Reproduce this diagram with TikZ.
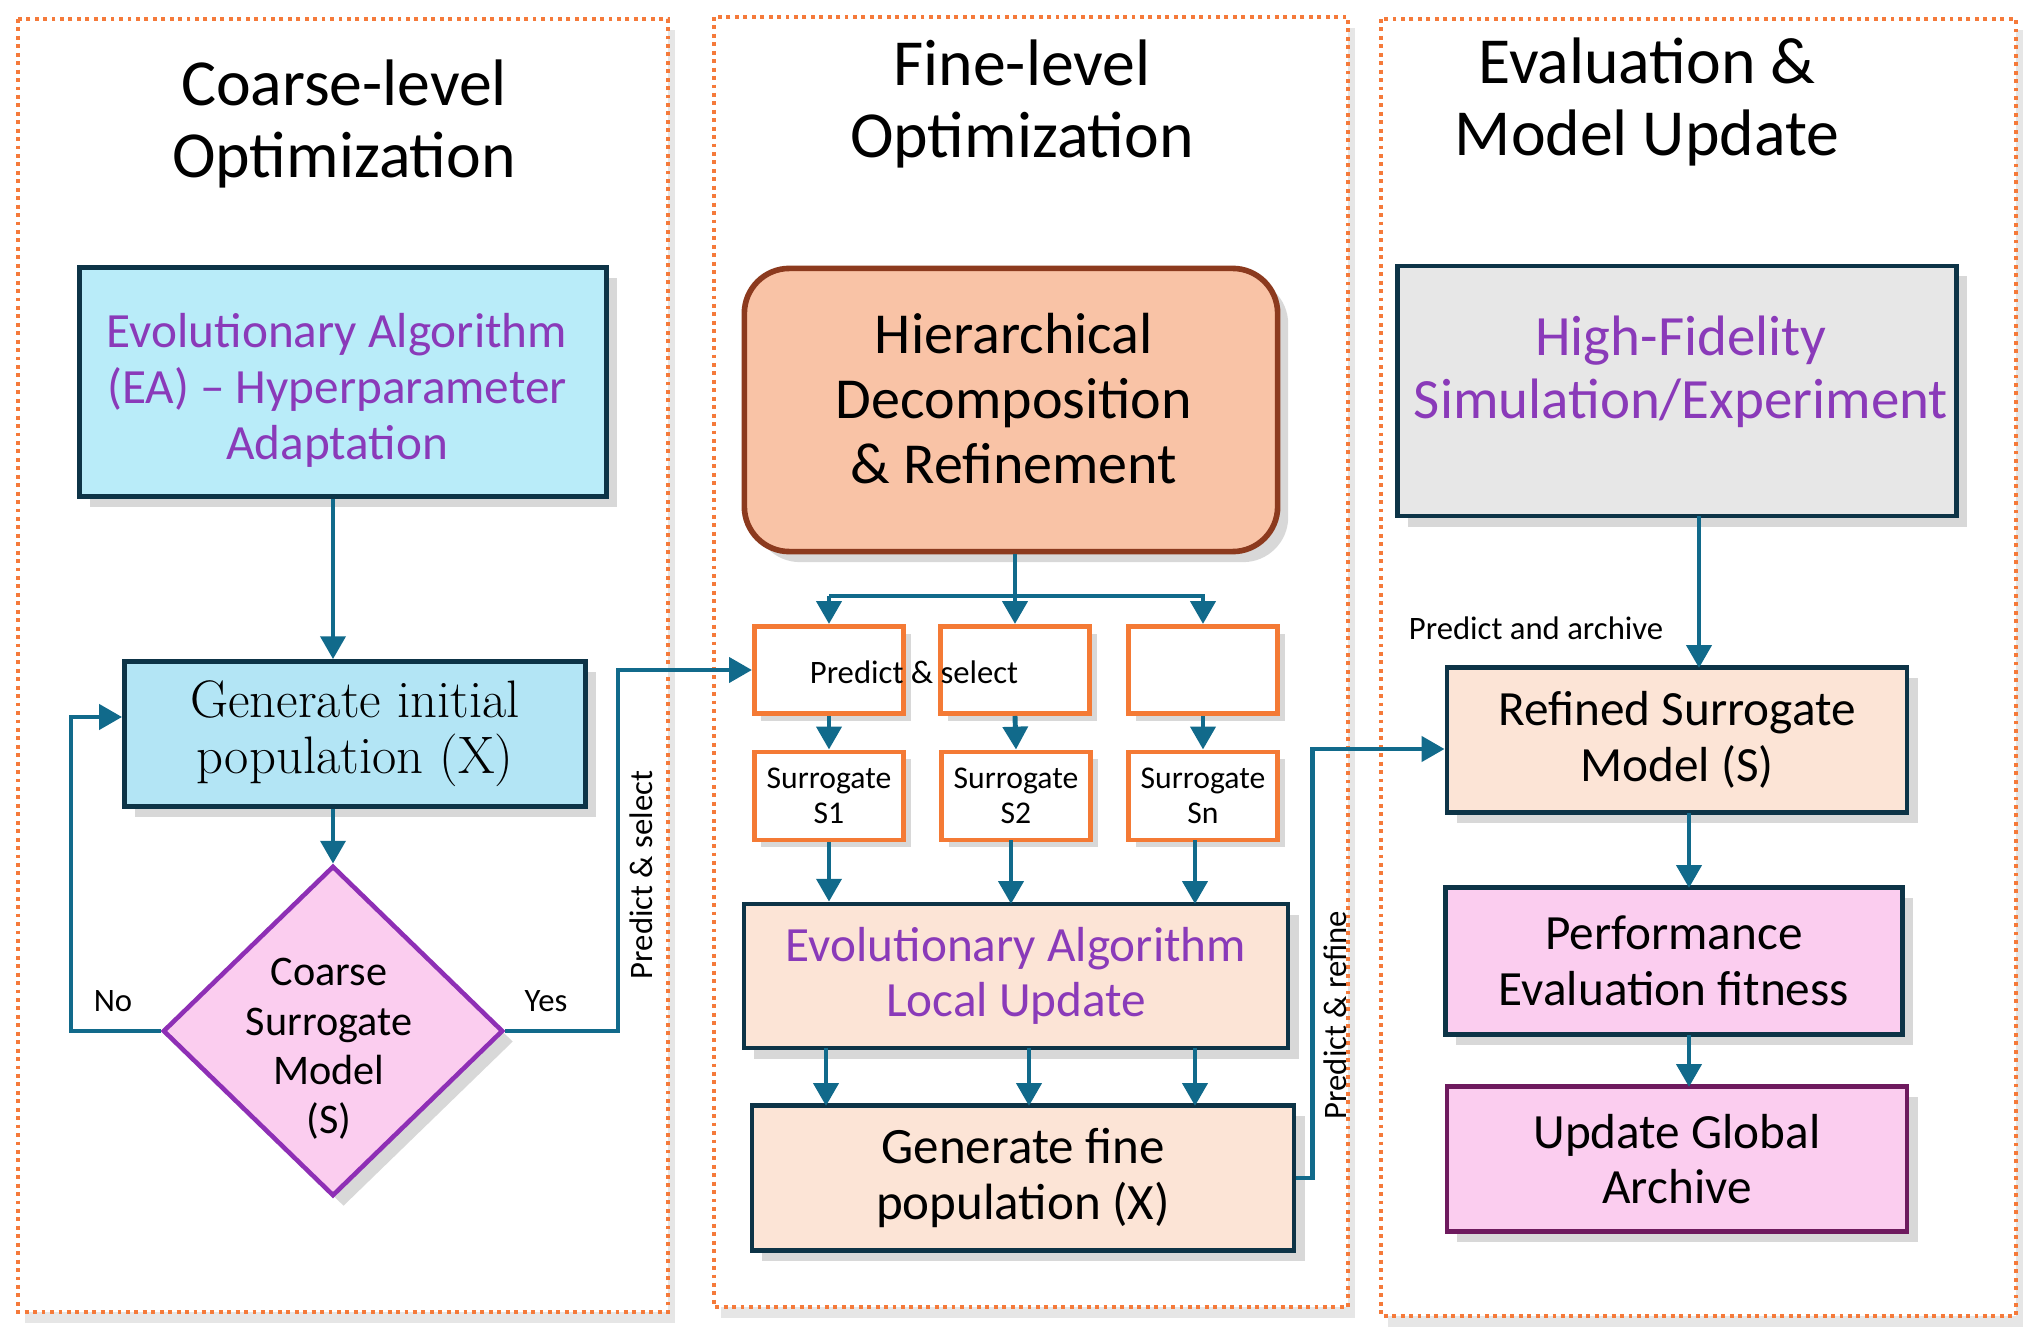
\documentclass[tikz,border=0pt]{standalone}
\usepackage{fontspec}
\setsansfont{Carlito}
\usetikzlibrary{arrows.meta,shapes.geometric,shadows,positioning}

\definecolor{arrowblue}{HTML}{116A8B}
\definecolor{dotorange}{HTML}{F57A3A}
\definecolor{boxline}{HTML}{0D3447}
\definecolor{boxorange}{HTML}{F47A35}
\definecolor{txtpurple}{HTML}{8A3AB9}
\definecolor{cyanfill}{HTML}{B9ECF9}
\definecolor{bluefill}{HTML}{B3E5F5}
\definecolor{salmon}{HTML}{F9C3A6}
\definecolor{hierline}{HTML}{8C3A1E}
\definecolor{peach}{HTML}{FCE4D6}
\definecolor{pinkfill}{HTML}{FBCDEF}
\definecolor{diaedge}{HTML}{8E2FB5}
\definecolor{grayfill}{HTML}{E7E7E7}
\definecolor{updline}{HTML}{6E1A5E}

\begin{document}
\begin{tikzpicture}[x=0.01cm,y=-0.01cm,font=\sffamily,
  panel/.style={draw=dotorange,line width=1.4pt,dash pattern=on 1.1pt off 1.3pt,fill=white,
    drop shadow={shadow xshift=2pt,shadow yshift=-3pt,opacity=.2}},
  ttl/.style={align=center,font=\sffamily\fontsize{18.7}{20.3}\selectfont},
  blk/.style={draw=boxline,line width=1.3pt,inner sep=0pt,align=center,
    drop shadow={shadow xshift=3pt,shadow yshift=-3pt,opacity=.3}},
  obox/.style={draw=boxorange,line width=1.4pt,fill=white,minimum width=1.49cm,minimum height=0.87cm,
    inner sep=0pt,align=center,font=\sffamily\fontsize{9}{10}\selectfont,
    drop shadow={shadow xshift=2pt,shadow yshift=-2pt,opacity=.3}},
  arr/.style={draw=arrowblue,line width=1.4pt,-{Triangle[length=6.5pt,width=7pt]}},
  lbl/.style={font=\sffamily\fontsize{9.3}{11}\selectfont}]
\useasboundingbox (0,0) rectangle (2033,1343);

% panels
\draw[panel] (18,19) rectangle (668,1312);
\draw[panel] (714,17) rectangle (1348,1307);
\draw[panel] (1381,19) rectangle (2016,1316);

\node[ttl] (t1) at (344,124) {Coarse-level\\Optimization};
\node[ttl] (t2) at (1022,104) {Fine-level\\Optimization};
\node[ttl] (t3) at (1647,102) {Evaluation \&\\Model Update};

% coarse level
\node[blk,fill=cyanfill,minimum width=5.27cm,minimum height=2.29cm] (ea) at (343,382) {};
\node[align=center,text=txtpurple,font=\sffamily\fontsize{14}{15.9}\selectfont] (eatxt) at (337,390)
  {Evolutionary Algorithm\\(EA) -- Hyperparameter\\Adaptation};
\node[blk,fill=bluefill,minimum width=4.61cm,minimum height=1.45cm,
  font=\rmfamily\fontsize{15}{15.9}\selectfont] (gen) at (355,734)
  {Generate initial\\population (X)};
\node[diamond,draw=diaedge,line width=1.3pt,fill=pinkfill,minimum width=3.4cm,minimum height=3.3cm,
  inner sep=0pt,drop shadow={shadow xshift=3pt,shadow yshift=-3pt,opacity=.3}] (dia) at (333,1031) {};
\node[align=center,font=\sffamily\fontsize{12}{14}\selectfont] (diatxt) at (329,1049)
  {Coarse\\Surrogate\\Model\\(S)};

\draw[arr] (ea.south -| dia.north) -- (gen.north -| dia.north);
\draw[arr] (gen.south -| dia.north) -- (dia.north);
\draw[arr] (dia.west) -- (71,1031) |- ([yshift=0.17cm]gen.west);
\node[lbl] (no) at (113,1001) {No};
\node[lbl] (yes) at (546,1001) {Yes};

% fine level
\node[draw=hierline,line width=1.6pt,fill=salmon,rounded corners=0.45cm,minimum width=5.33cm,
  minimum height=2.83cm,drop shadow={shadow xshift=3pt,shadow yshift=-3pt,opacity=.3}] (hier) at (1011,410) {};
\node[align=center,font=\sffamily\fontsize{16.5}{18.5}\selectfont] (hiertxt) at (1014,399)
  {Hierarchical\\Decomposition\\\& Refinement};

\node[obox] (p1) at (829,670) {};
\node[obox] (p2) at (1015,670) {};
\node[obox] (p3) at (1203,670) {};
\node[lbl] (ps) at (914,672) {Predict \& select};

\node[obox,minimum height=0.88cm] (s1) at (829,796) {Surrogate\\S1};
\node[obox,minimum height=0.88cm] (s2) at (1016,796) {Surrogate\\S2};
\node[obox,minimum height=0.88cm] (s3) at (1203,796) {Surrogate\\Sn};

\draw[arrowblue,line width=1.4pt] (hier.south -| p2.north) -- (1015,596) coordinate (br);
\draw[arr] (br -| p1.north) -- (p1.north);
\draw[arr] (br) -- (p2.north);
\draw[arr] (br) -- (br -| p3.north) -- (p3.north);
\draw[arrowblue,line width=1.4pt] (br) -- (br -| p1.north);
\foreach \a/\b in {p1/s1,p2/s2,p3/s3}
  \draw[arr] (\a.south) -- (\b.north);

\node[blk,fill=peach,minimum width=5.44cm,minimum height=1.44cm,text=txtpurple,
  font=\sffamily\fontsize{14}{15.5}\selectfont] (loc) at (1016,976)
  {Evolutionary Algorithm\\Local Update};
\node[blk,fill=peach,minimum width=5.42cm,minimum height=1.45cm,
  font=\sffamily\fontsize{14.5}{15.9}\selectfont] (gf) at (1023,1178)
  {Generate fine\\population (X)};

\draw[arr] (s1.south) -- (s1.south |- loc.north);
\draw[arr] (1011,840) -- (1011,904);
\draw[arr] (1195,840) -- (1195,904);
\draw[arr] (826,1048) -- (826,1106);
\draw[arr] (1029,1048) -- (1029,1106);
\draw[arr] (1195,1048) -- (1195,1106);

% links between panels
\draw[arr] (dia.east) -- (618,1031) |- (p1.west);
\node[lbl,rotate=90] (lps) at (641,875) {Predict \& select};

% evaluation
\node[blk,fill=grayfill,minimum width=5.59cm,minimum height=2.5cm] (hf) at (1677,391) {};
\node[align=center,text=txtpurple,font=\sffamily\fontsize{16.2}{18}\selectfont] (hftxt) at (1681,372)
  {High-Fidelity\\Simulation/Experiment};
\node[blk,fill=peach,minimum width=4.6cm,minimum height=1.45cm,
  font=\sffamily\fontsize{14}{15.9}\selectfont] (rs) at (1677,740)
  {Refined Surrogate\\Model (S)};
\node[blk,fill=pinkfill,minimum width=4.57cm,minimum height=1.47cm,
  font=\sffamily\fontsize{14}{15.9}\selectfont] (pe) at (1674,961)
  {Performance\\Evaluation fitness};
\node[blk,draw=updline,fill=pinkfill,minimum width=4.6cm,minimum height=1.45cm,
  font=\sffamily\fontsize{14}{15.5}\selectfont] (ug) at (1677,1159)
  {Update Global\\Archive};

\draw[arr] (1699,516) -- (1699,668);
\node[lbl] (pa) at (1536,628) {Predict and archive};
\draw[arr] (1689,813) -- (1689,888);
\draw[arr] (1689,1035) -- (1689,1087);

\draw[arr] (gf.east) -- ++(16,0) |- ([yshift=-0.09cm]rs.west);
\node[lbl,rotate=90] (lpr) at (1335,1015) {Predict \& refine};
\end{tikzpicture}
\end{document}
